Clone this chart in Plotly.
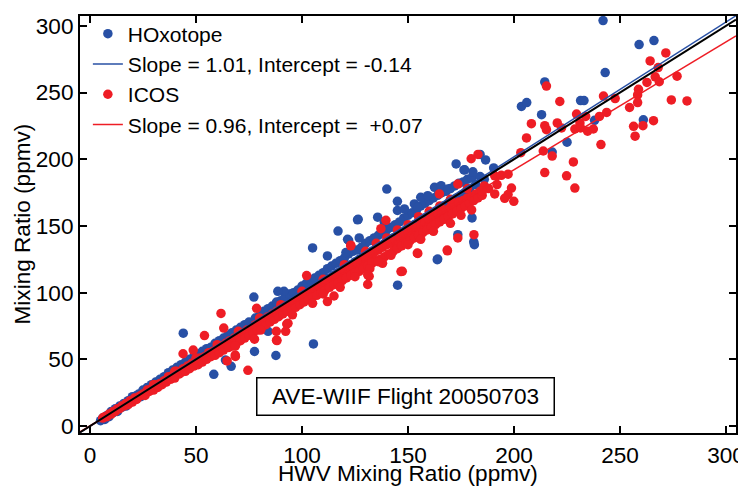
import plotly.graph_objects as go

# HOxotope points (HWV, instrument)
hox_band = [(5,4),(6,6),(7,5),(8,8),(9,7),(10,11),(11,10),(12,13),(13,11),(14,15),(15,14),(16,17),(17,15),(18,19),(19,18),
            (20,22),(21,20),(22,23),(23,24),(24,22),(25,27),(26,25),(27,29),(28,27),(29,31),(30,29),(31,33),(32,31),(33,35),
            (34,33),(35,37),(36,34),(37,40),(38,37),(39,42),(40,39),(41,44),(42,41),(43,46),(44,42),(45,48),(46,45),(47,50),
            (48,47),(49,52),(50,49),(51,54),(52,50),(53,56),(54,52),(55,58),(56,55),(57,59),(58,56),(59,62),(60,58),(61,64),
            (62,60),(63,66),(64,62),(65,68),(66,64),(67,70),(68,67),(69,72),(70,68),(71,74),(72,70),(73,76),(74,72),(75,78),
            (76,74),(78,81),(79,77),(80,83),(81,79),(82,86),(83,81),(84,88),(85,83),(86,90),(87,85),(88,92),(89,87),(90,94),
            (91,89),(92,97),(93,91),(94,99),(95,93),(96,100),(97,95),(98,102),(99,97),(100,105),(101,99),(102,107),(103,101),
            (104,109),(105,103),(106,111),(107,105),(108,113),(109,107),(110,115),(111,109),(112,118),(113,111),(114,120),
            (115,113),(116,122),(117,115),(118,124),(119,117),(120,126),(121,119),(122,129),(123,121),(124,131),(125,123),
            (126,132),(127,125),(128,134),(129,127),(130,137),(131,129),(132,139),(133,131),(134,141),(135,133),(136,143),
            (137,135),(138,145),(139,137),(140,147),(141,139),(142,149),(143,141),(144,151),(145,143),(146,153),(147,145),
            (148,156),(149,147),(150,158),(151,149),(152,160),(153,151),(154,162),(155,153),(156,165),(157,155),(158,167),
            (159,157),(160,169),(161,159),(162,171),(163,161),(164,173),(165,163),(166,175),(167,165),(168,176),(169,167),
            (170,178),(171,169),(172,180),(173,171),(174,182),(175,173),(176,183),(177,175),(178,185),(179,177),(180,186),
            (182,181),(184,187),(186,185)]
hox_out = [(242,304),(259,286),(266,289),(243,265),(214.5,258),(203.5,239.6),(206,242.5),(213,233.4),(231.4,244),(233,244),
           (261,229.6),(225,212.8),(218,205.4),(238,229.2),(184,203.6),(186.6,199.5),(176.4,192),(180.6,190.6),(190.4,193.5),
           (44,69.6),(77.3,96.7),(77.6,55.9),(87.7,52.9),(84,71),(105.4,61.6),(58.4,38.8),(66.6,44.8),(63.9,49.5),(105,133.5),
           (117,146.2),(121.5,140),(112,127.5),(120.7,130.1),(88,93),(91.5,101),(88.6,101),(140,177.7),(145,168.5),(126.5,155),
           (127,141),(122,139.3),(172.7,196.5),(176.7,192.1),(164,125.2),(173.5,143.5),(181,138),(180.2,156),(156,171.5),
           (159.3,172.7),(162.5,179),(165.6,180.2),(168.8,177.7),(145,161.6),(148.3,162.8),(153,166.5),(154.6,164),(135.7,156.6),
           (138.8,153),(163.8,124.7),(145.1,105.6),(181.3,136),(126.2,154.6)]

# ICOS points
icos_band = [(6,6),(7,7),(8,7),(9,9),(10,9),(11,11),(12,11),(13,13),(14,13),(15,15),(16,15),(17,17),(18,16),(19,19),(20,18),
             (21,21),(22,20),(23,22),(24,23),(25,24),(26,23),(27,27),(28,26),(29,28),(30,27),(31,31),(32,29),(33,32),(34,31),
             (35,34),(36,33),(37,37),(38,35),(39,38),(40,36),(41,41),(42,39),(43,40),(44,43),(45,41),(46,45),(47,43),(48,47),
             (49,45),(50,49),(51,46),(52,51),(53,48),(54,52),(55,50),(56,55),(57,52),(58,56),(59,53),(60,58),(61,55),(62,60),
             (63,57),(64,62),(65,59),(66,64),(67,60),(68,66),(69,62),(70,68),(71,64),(72,70),(73,66),(74,72),(75,68),(76,73),
             (77,70),(78,76),(79,72),(80,78),(81,74),(82,80),(83,76),(84,82),(85,78),(86,84),(87,80),(88,86),(89,82),(90,88),
             (91,84),(92,90),(93,86),(94,91),(95,88),(96,93),(97,89),(98,95),(99,91),(100,97),(101,93),(102,99),(103,95),
             (104,101),(105,97),(106,103),(107,98),(108,105),(109,100),(110,107),(111,102),(112,109),(113,104),(114,111),
             (115,106),(116,113),(117,107),(118,115),(119,109),(120,117),(121,111),(122,118),(123,113),(124,120),(125,115),
             (126,122),(127,116),(128,124),(129,118),(130,126),(131,120),(132,128),(133,122),(134,130),(135,124),(136,132),
             (137,125),(138,134),(139,127),(140,136),(141,129),(142,137),(143,131),(144,139),(145,133),(146,141),(147,135),
             (148,143),(149,137),(150,145),(151,139),(152,147),(153,141),(154,149),(155,143),(156,151),(157,145),(158,153),
             (159,147),(160,155),(161,149),(162,157),(163,151),(164,159),(165,153),(166,160),(167,155),(168,162),(169,157),
             (170,164),(171,159),(172,166),(173,161),(174,168),(175,163),(176,169),(177,165),(178,171),(179,167),(180,172),
             (181,169),(182,174),(183,171),(184,176),(185,173),
             (105,92),(110,99),(118,104),(125,112),(132,118),(138,122),(142,128),(150,136),(156,140),(162,146),(170,152),
             (175,158),(180,162),(110,110),(120,121),(130,131),(140,141),(150,151),(160,161),(170,170),(178,178),(135,137),
             (145,147),(155,157),(165,165),(100,101),(90,91),(80,81),(70,71),(60,61),(50,51),(40,41),(30,31),
             (186,180),(188,178),(192,181),(185,176)]
icos_out = [(271.6,279.7),(264.2,273.7),(268,268.7),(266.6,261.8),(268.5,258.1),(262.7,257.6),(276.9,262.3),(258.7,252.4),
            (258.3,248.2),(258.3,242.5),(254.5,238.8),(274.2,244.5),(281.6,243.7),(265.8,228.9),(256.4,224.7),(260.8,225.2),
            (257.1,217.3),(215.3,254.9),(221.6,243.3),(208.2,226.7),(214.5,225.2),(215.3,222.2),(220.4,227.2),(222.4,223.5),
            (205.9,216),(229.5,233.9),(231.1,227.2),(228.7,222.7),(231.4,223.5),(234.7,221),(237.4,222.7),(233.8,232.1),
            (240.3,232.1),(243.7,235.1),(242.2,247.4),(247.7,245.5),(241,211),(213.8,206.2),(218,202.4),(228,198),(214.5,190),
            (224.8,187.6),(228.7,178.4),(203.2,204.9),(179.8,200.4),(183,203.6),(198.8,178.4),(197.2,173.5),(195.6,170.7),
            (199.9,168.5),(190.9,187.6),(194,188),(197.2,188.8),(190.9,174),(61.8,84.4),(63.1,73.5),(54,67.8),(74.5,41.8),
            (68.6,52.2),(64.7,48.8),(78.6,88.3),(77.6,65.1),(80.5,72),(87.9,71),(88.2,64.1),(92.3,71),(92.8,76.5),(43.9,54.2),
            (48.7,57),(115.1,97.5),(112,93.3),(131.7,112.3),(131,106.2),(95.5,83.4),(93.4,77),(102.2,112.8),(123,135.1),
            (88,64.4),(65.5,58.9),(68.6,60.1),(68.5,53.2),(168.5,131.9),(173.5,141),(181.1,143.5),(154.6,129.4),(131,113.4),
            (146.7,115.8),(136,123.2),(123,135.6),(139.6,154.2),(137.2,148),(164.8,174),(173.5,181.4),(147.3,116),
            (168.6,131.4),(154.4,129.7)]

# linear fits from the legend
hox_fit = (1.01, -0.14)
icos_fit = (0.96, 0.07)
x_range = [-4.7, 304.7]
y_range = [-5.2, 307.4]

BLUE = '#2850a5'
RED = '#ee1d25'
FONT = 'Liberation Sans, Arial, sans-serif'
FS = 22.6

hox = hox_band + hox_out
icos = icos_band + icos_out

fig = go.Figure()
fig.add_trace(go.Scatter(x=[p[0] for p in hox], y=[p[1] for p in hox], mode='markers', name='HOxotope',
                         marker=dict(color=BLUE, size=9.5, line=dict(width=0)), legendrank=1))
fig.add_trace(go.Scatter(x=[p[0] for p in icos], y=[p[1] for p in icos], mode='markers', name='ICOS',
                         marker=dict(color=RED, size=9.5, line=dict(width=0)), legendrank=3))

fig.add_trace(go.Scatter(x=x_range, y=[hox_fit[0] * v + hox_fit[1] for v in x_range], mode='lines',
                         name='Slope = 1.01, Intercept = -0.14', line=dict(color=BLUE, width=1.5), legendrank=2))
fig.add_trace(go.Scatter(x=x_range, y=[icos_fit[0] * v + icos_fit[1] for v in x_range], mode='lines',
                         name='Slope = 0.96, Intercept = \u00a0+0.07', line=dict(color=RED, width=1.5), legendrank=4))
fig.add_trace(go.Scatter(x=x_range, y=x_range, mode='lines', showlegend=False,
                         line=dict(color='black', width=2)))

axis_style = dict(showline=True, linecolor='black', linewidth=2, mirror='ticks', ticks='inside',
                  ticklen=7, tickwidth=1.5, tickcolor='black', showgrid=False, zeroline=False,
                  tickfont=dict(size=FS, color='black', family=FONT), dtick=50, automargin=False)

fig.update_xaxes(range=x_range, ticklabelstandoff=1, **axis_style)
fig.update_yaxes(range=y_range, **axis_style)

title_font = dict(size=FS, color='black', family=FONT)
fig.add_annotation(x=0.5, y=-0.097, xref='paper', yref='paper', text='HWV Mixing Ratio (ppmv)',
                   showarrow=False, font=title_font, xanchor='center', yanchor='middle')
fig.add_annotation(x=-0.0884, y=0.5, xref='paper', yref='paper', text='Mixing Ratio (ppmv)', textangle=-90,
                   showarrow=False, font=title_font, xanchor='center', yanchor='middle')

fig.add_annotation(x=149, y=22.3, xref='x', yref='y', text='AVE-WIIF Flight 20050703', showarrow=False,
                   font=title_font, bordercolor='black', borderwidth=1.5,
                   borderpad=5, bgcolor='white', width=286, height=26)

# the page body adds an 8px offset, so the figure is sized to fit the window
fig.update_layout(
    width=738, height=478,
    margin=dict(l=72, r=10, t=5, b=53),
    plot_bgcolor='white', paper_bgcolor='white',
    font=dict(family=FONT, size=FS, color='black'),
    legend=dict(x=0.012, y=1.006, xanchor='left', yanchor='top', bgcolor='rgba(0,0,0,0)',
                font=dict(size=21, family=FONT), tracegroupgap=0),
)

fig.write_html("out.html")
